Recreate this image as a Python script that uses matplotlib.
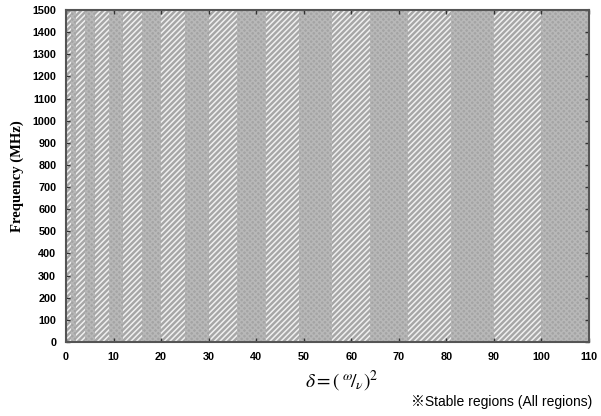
import numpy as np
import matplotlib
matplotlib.use('Agg')
import matplotlib.pyplot as plt

plt.rcParams['mathtext.fontset'] = 'stix'
plt.rcParams['hatch.linewidth'] = 1.1

# band edges: stable regions of delta = (omega/nu)^2
n_values = np.arange(0, 11)
dot_starts = n_values ** 2                 # n^2
dot_ends = n_values * (n_values + 1)       # n(n+1)
hatch_ends = (n_values + 1) ** 2           # (n+1)^2

x_ticks = [0, 10, 20, 30, 40, 50, 60, 70, 80, 90, 100, 110]
y_ticks = [0, 100, 200, 300, 400, 500, 600, 700, 800, 900, 1000, 1100, 1200, 1300, 1400, 1500]
freq_max = 1500
delta_max = 110

fig = plt.figure(figsize=(6.01, 4.16), dpi=100)
ax = fig.add_axes([66 / 601, 1 - 342 / 416, (589 - 66) / 601, (342 - 10) / 416])

for a, b, c in zip(dot_starts, dot_ends, hatch_ends):
    if b > a:
        ax.axvspan(a, min(b, delta_max), facecolor='#a4a4a4', edgecolor='#b8b8b8',
                   hatch='xxxxxx', linewidth=0)
    if c > b and b < delta_max:
        ax.axvspan(b, min(c, delta_max), facecolor='#a6a6a6', edgecolor='#f0f0f0',
                   hatch='//////', linewidth=0)

ax.set_xlim(0, delta_max)
ax.set_ylim(0, freq_max)
ax.set_xticks(x_ticks)
ax.set_yticks(y_ticks)
ax.tick_params(direction='in', top=True, right=True, length=3, width=1,
               color='#333333', pad=7)
for lbl in ax.get_xticklabels() + ax.get_yticklabels():
    lbl.set_fontfamily('Liberation Sans')
    lbl.set_fontweight('bold')
    lbl.set_fontsize(7.8)
for s in ax.spines.values():
    s.set_color('#555555')
    s.set_linewidth(1.5)

ax.set_ylabel('Frequency (MHz)', fontfamily='Liberation Serif', fontweight='bold',
              fontsize=10.5, labelpad=6)
fig.text(0.568, 0.082, r'$\delta = \left(\,^{\omega}\!/_{\nu}\right)^{2}$',
         fontsize=14, ha='center', va='center')
fig.text(0.985, 0.033, '※Stable regions (All regions)', ha='right', va='center',
         fontsize=10, family=['Liberation Sans', 'Noto Sans CJK JP'])

fig.savefig('out.png', dpi=100)
